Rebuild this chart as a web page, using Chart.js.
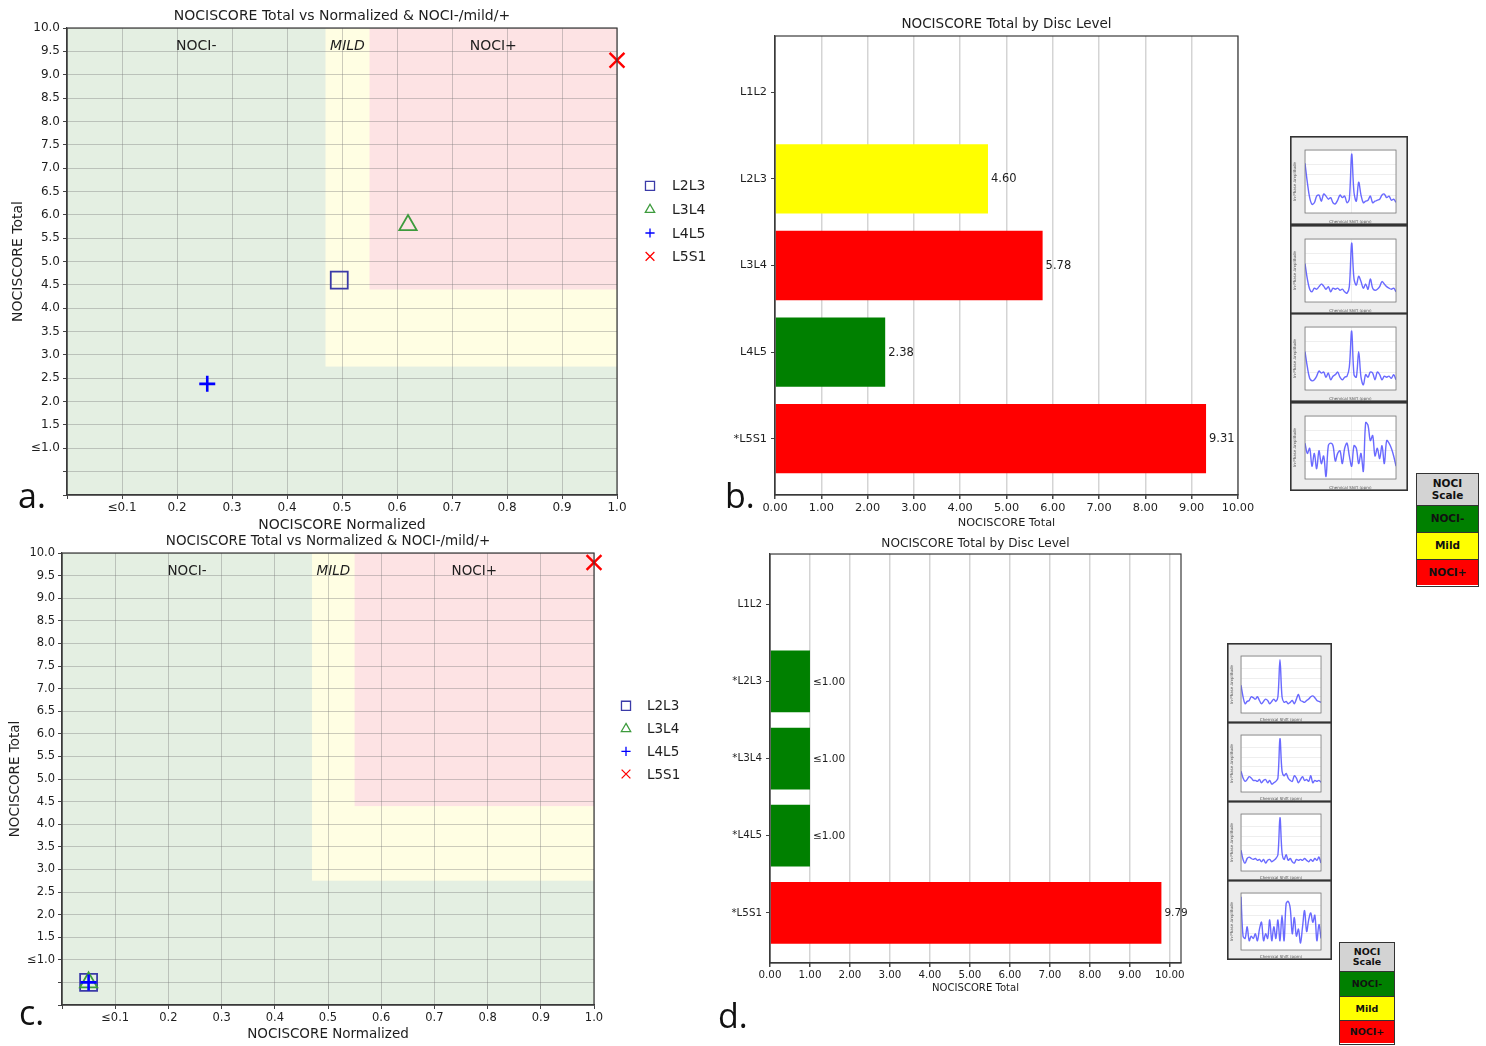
<!DOCTYPE html>
<html><head><meta charset="utf-8">
<script src="https://cdn.jsdelivr.net/npm/chart.js@4.4.1/dist/chart.umd.min.js"></script>
<style>
html,body{margin:0;padding:0;background:#fff;}
body{width:1486px;height:1046px;position:relative;overflow:hidden;font-family:"DejaVu Sans",sans-serif;}
.abs{position:absolute;}
canvas{display:block;}
.letter{position:absolute;font-family:"Open Sans","Liberation Sans",sans-serif;font-size:34px;line-height:1;color:#111;}
.scale{position:absolute;border:1.5px solid #333;box-sizing:border-box;display:flex;flex-direction:column;font-family:"DejaVu Sans",sans-serif;font-weight:bold;color:#111;}
.scale div{display:flex;align-items:center;justify-content:center;text-align:center;white-space:pre-line;line-height:1.05;border-top:1.5px solid #333;box-sizing:border-box;}
.scale div:first-child{border-top:none;}
</style></head><body>

<div class="abs" style="left:0;top:0;"><canvas id="chartA" width="720" height="535"></canvas></div>
<div class="abs" style="left:725px;top:0;"><canvas id="chartB" width="540" height="535"></canvas></div>
<div class="abs" style="left:0;top:528px;"><canvas id="chartC" width="720" height="518"></canvas></div>
<div class="abs" style="left:720px;top:530px;"><canvas id="chartD" width="500" height="516"></canvas></div>

<div class="abs" style="left:1290px;top:136px;"><canvas id="thB0" width="118" height="89"></canvas></div>
<div class="abs" style="left:1290px;top:225px;"><canvas id="thB1" width="118" height="89"></canvas></div>
<div class="abs" style="left:1290px;top:313px;"><canvas id="thB2" width="118" height="89"></canvas></div>
<div class="abs" style="left:1290px;top:402px;"><canvas id="thB3" width="118" height="89"></canvas></div>

<div class="abs" style="left:1227px;top:643px;"><canvas id="thD0" width="105" height="80"></canvas></div>
<div class="abs" style="left:1227px;top:722px;"><canvas id="thD1" width="105" height="80"></canvas></div>
<div class="abs" style="left:1227px;top:801px;"><canvas id="thD2" width="105" height="80"></canvas></div>
<div class="abs" style="left:1227px;top:880px;"><canvas id="thD3" width="105" height="80"></canvas></div>

<div id="scaleB" class="scale" style="left:1416px;top:473px;width:63px;height:114px;font-size:10.5px;"></div>
<div id="scaleD" class="scale" style="left:1339px;top:942px;width:56px;height:103px;font-size:9.5px;"></div>

<div class="letter" style="left:18px;top:478px;">a.</div>
<div class="letter" style="left:725px;top:478px;">b.</div>
<div class="letter" style="left:19px;top:995px;">c.</div>
<div class="letter" style="left:718px;top:998px;">d.</div>

<script>
// ===================== DATA =====================
const scatterLevels = ['L2L3', 'L3L4', 'L4L5', 'L5S1'];
const scatterANormalized = [0.495, 0.62, 0.255, 1.0];
const scatterATotal = [4.60, 5.78, 2.38, 9.31];
const scatterCNormalized = [0.05, 0.05, 0.05, 1.0];
const scatterCTotal = [0.5, 0.5, 0.5, 9.79];

const scatterXTickValues = [0, 0.1, 0.2, 0.3, 0.4, 0.5, 0.6, 0.7, 0.8, 0.9, 1.0];
const scatterXTickLabels = ['', '≤0.1', '0.2', '0.3', '0.4', '0.5', '0.6', '0.7', '0.8', '0.9', '1.0'];
const scatterYTickValues = [0, 0.5, 1.0, 1.5, 2.0, 2.5, 3.0, 3.5, 4.0, 4.5, 5.0, 5.5, 6.0, 6.5, 7.0, 7.5, 8.0, 8.5, 9.0, 9.5, 10.0];
const scatterYTickLabels = ['', '', '≤1.0', '1.5', '2.0', '2.5', '3.0', '3.5', '4.0', '4.5', '5.0', '5.5', '6.0', '6.5', '7.0', '7.5', '8.0', '8.5', '9.0', '9.5', '10.0'];

const zoneMildMinNormalized = 0.47;
const zoneMildMinTotal = 2.75;
const zonePlusMinNormalized = 0.55;
const zonePlusMinTotal = 4.4;
const zoneLabels = ['NOCI-', 'MILD', 'NOCI+'];

const barBLevels = ['L1L2', 'L2L3', 'L3L4', 'L4L5', '*L5S1'];
const barBTotals = [null, 4.60, 5.78, 2.38, 9.31];
const barBClasses = ['none', 'mild', 'plus', 'minus', 'plus'];
const barBValueLabels = ['', '4.60', '5.78', '2.38', '9.31'];

const barDLevels = ['L1L2', '*L2L3', '*L3L4', '*L4L5', '*L5S1'];
const barDTotals = [null, 1.0, 1.0, 1.0, 9.79];
const barDClasses = ['none', 'minus', 'minus', 'minus', 'plus'];
const barDValueLabels = ['', '≤1.00', '≤1.00', '≤1.00', '9.79'];

const barXTickValues = [0, 1, 2, 3, 4, 5, 6, 7, 8, 9, 10];
const barXTickLabels = ['0.00', '1.00', '2.00', '3.00', '4.00', '5.00', '6.00', '7.00', '8.00', '9.00', '10.00'];

const nociScaleLabels = ['NOCI\nScale', 'NOCI-', 'Mild', 'NOCI+'];
const nociScaleClasses = ['header', 'minus', 'mild', 'plus'];

// thumbnail spectra (relative amplitude)
const spectrumB0 = [0.82,0.45,0.15,0.02,0.05,0.18,0.2,0.08,0.22,0.18,0.12,0.15,0.05,0.03,0.1,0.2,0.15,0.18,0.05,0.12,1.0,0.25,0.08,0.45,0.2,0.05,0.08,0.1,0.18,0.05,0.08,0.1,0.12,0.2,0.22,0.15,0.18,0.1,0.12,0.06];
const spectrumB1 = [0.6,0.3,0.1,0.05,0.12,0.1,0.15,0.2,0.16,0.1,0.15,0.05,0.12,0.1,0.12,0.08,0.1,0.05,0.02,0.15,1.0,0.3,0.18,0.35,0.25,0.12,0.2,0.1,0.3,0.12,0.08,0.1,0.15,0.25,0.2,0.15,0.12,0.1,0.12,0.05];
const spectrumB2 = [0.6,0.3,0.08,0.03,0.05,0.12,0.22,0.18,0.2,0.1,0.18,0.05,0.12,0.15,0.2,0.1,0.05,0.1,0.12,0.3,1.0,0.15,0.1,0.6,0.1,-0.05,0.15,0.1,0.2,0.18,0.05,0.2,0.15,0.05,0.12,0.1,0.12,0.08,0.15,0.05];
const spectrumB3 = [0.55,0.35,0.45,0.1,0.35,0.05,0.4,0.15,0.3,-0.1,0.5,0.55,0.5,0.2,0.35,0.4,0.15,0.45,0.55,0.3,0.1,0.5,0.45,0.15,0.35,0.0,0.95,0.9,0.6,0.7,0.3,0.45,0.25,0.5,0.15,0.6,0.55,0.45,0.3,0.1];
const spectrumD0 = [0.45,0.2,0.05,0.1,0.12,0.2,0.18,0.15,0.2,0.12,0.05,0.1,0.15,0.12,0.05,0.1,0.15,0.1,0.2,1.0,0.2,0.08,0.1,0.05,0.08,0.12,0.05,0.15,0.25,0.12,0.1,0.08,0.12,0.15,0.2,0.22,0.18,0.12,0.1,0.08];
const spectrumD1 = [0.3,0.15,0.08,0.12,0.18,0.15,0.1,0.1,0.08,0.12,0.05,0.1,0.12,0.05,0.1,0.02,0.05,0.08,0.15,1.0,0.3,0.2,0.25,0.15,0.1,0.08,0.2,0.15,0.05,0.12,0.18,0.1,0.12,0.08,0.2,0.05,0.1,0.08,0.1,0.06];
const spectrumD2 = [0.3,0.1,0.02,0.12,0.15,0.12,0.1,0.12,0.08,0.1,0.05,0.1,0.02,0.08,0.1,0.05,0.08,0.12,0.2,1.0,0.25,0.1,0.2,0.08,0.12,0.05,0.02,0.1,0.08,0.1,0.08,0.12,0.08,0.05,0.1,0.06,0.12,0.08,0.15,0.02];
const spectrumD3 = [1.0,0.15,0.1,0.35,0.05,0.15,0.1,0.2,0.05,0.3,0.45,0.05,0.2,0.1,0.5,0.05,0.35,0.1,0.5,0.05,0.6,0.05,0.85,0.9,0.75,0.2,0.55,0.15,0.3,0.0,0.35,0.7,0.25,0.5,0.65,0.45,0.6,0.05,0.4,0.1];

// ===================== STYLE / LAYOUT =====================
const FONT = "'DejaVu Sans', sans-serif";
const TEXT = '#1e1e1e';
const classColors = { none: 'rgba(0,0,0,0)', minus: '#008000', mild: '#ffff00', plus: '#ff0000', header: '#d3d3d3' };
const zoneColors = { minus: '#e4efe2', mild: '#fffee3', plus: '#fde3e4' };
const markerStyles = [
  { style: 'rect', color: '#3b3ba8', radius: 12, width: 1.8, legendRadius: 6.4 },
  { style: 'triangle', color: '#3d9b3d', radius: 10, width: 1.8, legendRadius: 5.4 },
  { style: 'cross', color: '#0000ff', radius: 8, width: 2.6, legendRadius: 4.6 },
  { style: 'crossRot', color: '#ff0000', radius: 10.5, width: 2.4, legendRadius: 6.2 }
];
const zoneLabelAnchors = [{ x: 0.235, y: 9.6, italic: false }, { x: 0.51, y: 9.6, italic: true }, { x: 0.775, y: 9.6, italic: false }];
const legendRowFractions = [0.338, 0.389, 0.439, 0.489];

function drawMarker(ctx, style, x, y, r) {
  ctx.beginPath();
  if (style === 'rect') {
    const s = r * Math.SQRT1_2; ctx.rect(x - s, y - s, 2 * s, 2 * s);
  } else if (style === 'triangle') {
    const a = 2 * Math.PI / 3;
    ctx.moveTo(x, y - r);
    ctx.lineTo(x + r * Math.sin(a), y - r * Math.cos(a));
    ctx.lineTo(x + r * Math.sin(2 * a), y - r * Math.cos(2 * a));
    ctx.closePath();
  } else if (style === 'cross') {
    ctx.moveTo(x, y - r); ctx.lineTo(x, y + r); ctx.moveTo(x - r, y); ctx.lineTo(x + r, y);
  } else {
    const d = r * Math.SQRT1_2;
    ctx.moveTo(x - d, y - d); ctx.lineTo(x + d, y + d); ctx.moveTo(x + d, y - d); ctx.lineTo(x - d, y + d);
  }
  ctx.stroke();
}

const framePlugin = {
  id: 'frame',
  afterDraw(chart) {
    const { ctx, chartArea: a } = chart;
    ctx.save(); ctx.strokeStyle = '#3a3a3a'; ctx.lineWidth = 1.2;
    ctx.strokeRect(a.left, a.top, a.width, a.height); ctx.restore();
  }
};

function buildScatter(id, xs, ys, g) {
  const datasets = scatterLevels.map((lvl, i) => ({
    label: lvl,
    data: [{ x: xs[i], y: ys[i] }],
    pointStyle: markerStyles[i].style,
    pointRadius: markerStyles[i].radius,
    pointHoverRadius: markerStyles[i].radius,
    pointBorderColor: markerStyles[i].color,
    pointBackgroundColor: 'rgba(0,0,0,0)',
    pointBorderWidth: markerStyles[i].width,
    showLine: false,
    clip: false,
    order: scatterLevels.length - i
  }));
  const zonesPlugin = {
    id: 'zones',
    beforeDraw(chart) {
      const { ctx, chartArea: a, scales: { x, y } } = chart;
      ctx.save();
      ctx.fillStyle = zoneColors.minus; ctx.fillRect(a.left, a.top, a.width, a.height);
      let x0 = x.getPixelForValue(zoneMildMinNormalized), y0 = y.getPixelForValue(zoneMildMinTotal);
      ctx.fillStyle = zoneColors.mild; ctx.fillRect(x0, a.top, a.right - x0, y0 - a.top);
      x0 = x.getPixelForValue(zonePlusMinNormalized); y0 = y.getPixelForValue(zonePlusMinTotal);
      ctx.fillStyle = zoneColors.plus; ctx.fillRect(x0, a.top, a.right - x0, y0 - a.top);
      ctx.restore();
    },
    afterDraw(chart) {
      const { ctx, chartArea: a, scales: { x, y } } = chart;
      ctx.save();
      ctx.fillStyle = TEXT; ctx.textBaseline = 'middle'; ctx.textAlign = 'center';
      zoneLabels.forEach((t, i) => {
        const an = zoneLabelAnchors[i];
        ctx.font = (an.italic ? 'italic ' : '') + g.zoneSize + 'px ' + FONT;
        ctx.fillText(t, x.getPixelForValue(an.x), y.getPixelForValue(an.y));
      });
      // legend
      ctx.textAlign = 'left';
      ctx.font = g.legendSize + 'px ' + FONT;
      scatterLevels.forEach((lvl, i) => {
        const yy = a.top + legendRowFractions[i] * a.height;
        ctx.strokeStyle = markerStyles[i].color; ctx.lineWidth = 1.3;
        drawMarker(ctx, markerStyles[i].style, a.right + g.legendMarkerDx, yy, markerStyles[i].legendRadius);
        ctx.fillStyle = TEXT;
        ctx.fillText(lvl, a.right + g.legendTextDx, yy + 1);
      });
      ctx.restore();
    }
  };
  return new Chart(document.getElementById(id), {
    type: 'scatter',
    data: { datasets },
    options: {
      responsive: false, animation: false, events: [],
      layout: { padding: { left: 0, top: 0, right: g.padRight, bottom: 0 } },
      plugins: {
        legend: { display: false }, tooltip: { enabled: false },
        title: {
          display: true, text: 'NOCISCORE Total vs Normalized & NOCI-/mild/+', fullSize: false,
          color: TEXT, font: { family: FONT, size: g.titleSize, weight: 'normal' },
          padding: { top: g.titlePadTop, bottom: g.titlePadBottom }
        }
      },
      scales: {
        x: {
          type: 'linear', min: 0, max: 1,
          afterBuildTicks: s => { s.ticks = scatterXTickValues.map(v => ({ value: v })); },
          afterFit: s => { s.height = g.xAxisH; },
          ticks: { callback: (v, i) => scatterXTickLabels[i], color: TEXT, font: { family: FONT, size: g.tickSize }, padding: 2, maxRotation: 0, autoSkip: false },
          grid: { color: 'rgba(120,120,120,0.38)', lineWidth: 1, tickLength: 4, tickColor: '#444' },
          border: { color: '#3a3a3a', width: 1.2 },
          title: { display: true, text: 'NOCISCORE Normalized', color: TEXT, font: { family: FONT, size: g.axisTitleSize }, padding: { top: 0, bottom: g.xTitlePadBottom } }
        },
        y: {
          type: 'linear', min: 0, max: 10,
          afterBuildTicks: s => { s.ticks = scatterYTickValues.map(v => ({ value: v })); },
          afterFit: s => { s.width = g.yAxisW; },
          ticks: { callback: (v, i) => scatterYTickLabels[i], color: TEXT, font: { family: FONT, size: g.tickSize }, padding: 3, autoSkip: false },
          grid: { color: 'rgba(120,120,120,0.38)', lineWidth: 1, tickLength: 4, tickColor: '#444' },
          border: { color: '#3a3a3a', width: 1.2 },
          title: { display: true, text: 'NOCISCORE Total', color: TEXT, font: { family: FONT, size: g.axisTitleSize }, padding: { top: g.yTitlePadTop, bottom: 0 } }
        }
      }
    },
    plugins: [zonesPlugin, framePlugin]
  });
}

function buildBars(id, levels, totals, classes, valueLabels, g) {
  const valuePlugin = {
    id: 'values',
    afterDatasetsDraw(chart) {
      const { ctx } = chart;
      const meta = chart.getDatasetMeta(0);
      ctx.save(); ctx.fillStyle = TEXT; ctx.textBaseline = 'middle'; ctx.textAlign = 'left';
      ctx.font = g.valueSize + 'px ' + FONT;
      meta.data.forEach((el, i) => {
        if (!valueLabels[i] || totals[i] === null) return;
        ctx.fillText(valueLabels[i], el.x + 3, el.y + 0.5);
      });
      ctx.restore();
    }
  };
  return new Chart(document.getElementById(id), {
    type: 'bar',
    data: {
      datasets: [{
        data: totals.map((v, i) => ({ x: v, y: i })),
        backgroundColor: classes.map(c => classColors[c]),
        borderWidth: 0, barPercentage: 0.8, categoryPercentage: 1.0
      }]
    },
    options: {
      indexAxis: 'y', responsive: false, animation: false, events: [],
      layout: { padding: { left: 0, top: 0, right: g.padRight, bottom: 0 } },
      plugins: {
        legend: { display: false }, tooltip: { enabled: false },
        title: {
          display: true, text: 'NOCISCORE Total by Disc Level', fullSize: false,
          color: TEXT, font: { family: FONT, size: g.titleSize, weight: 'normal' },
          padding: { top: g.titlePadTop, bottom: g.titlePadBottom }
        }
      },
      scales: {
        x: {
          type: 'linear', min: 0, max: g.xMax, offset: false,
          afterBuildTicks: s => { s.ticks = barXTickValues.map(v => ({ value: v })); },
          afterFit: s => { s.height = g.xAxisH; },
          ticks: { callback: (v, i) => barXTickLabels[i], color: TEXT, font: { family: FONT, size: g.tickSize }, padding: 2, maxRotation: 0, autoSkip: false },
          grid: { color: 'rgba(0,0,0,0.17)', lineWidth: 1.5, tickLength: 4, tickColor: '#444', offset: false },
          border: { color: '#3a3a3a', width: 1.2 },
          title: { display: true, text: 'NOCISCORE Total', color: TEXT, font: { family: FONT, size: g.axisTitleSize }, padding: { top: 0, bottom: g.xTitlePadBottom } }
        },
        y: {
          type: 'linear', min: -0.65, max: levels.length - 0.35, reverse: true, offset: false,
          afterBuildTicks: s => { s.ticks = levels.map((_, i) => ({ value: i })); },
          afterFit: s => { s.width = g.yAxisW; },
          ticks: { callback: (v, i) => levels[i], color: TEXT, font: { family: FONT, size: g.tickSize }, padding: 4, autoSkip: false },
          grid: { drawOnChartArea: false, tickLength: 4, tickColor: '#444', offset: false },
          border: { color: '#3a3a3a', width: 1.2 }
        }
      }
    },
    plugins: [valuePlugin, framePlugin]
  });
}

function buildThumb(id, values) {
  const bgPlugin = {
    id: 'thumbBg',
    beforeDraw(chart) {
      const { ctx, chartArea: a, width, height } = chart;
      ctx.save();
      ctx.fillStyle = '#ececec'; ctx.fillRect(0, 0, width, height);
      ctx.fillStyle = '#ffffff'; ctx.fillRect(a.left, a.top, a.width, a.height);
      ctx.restore();
    },
    afterDraw(chart) {
      const { ctx, chartArea: a, width, height } = chart;
      ctx.save();
      ctx.strokeStyle = '#7a7a7a'; ctx.lineWidth = 0.8; ctx.strokeRect(a.left, a.top, a.width, a.height);
      ctx.strokeStyle = '#333'; ctx.lineWidth = 1.6; ctx.strokeRect(0.8, 0.8, width - 1.6, height - 1.6);
      ctx.fillStyle = '#555'; ctx.font = '4px ' + FONT; ctx.textAlign = 'center'; ctx.textBaseline = 'middle';
      ctx.fillText('Chemical Shift (ppm)', (a.left + a.right) / 2, height - 3.5);
      ctx.translate(4.5, (a.top + a.bottom) / 2); ctx.rotate(-Math.PI / 2);
      ctx.fillText('In-Phase Amplitude', 0, 0);
      ctx.restore();
    }
  };
  const el = document.getElementById(id);
  const w = el.width, h = el.height;
  return new Chart(el, {
    type: 'line',
    data: { datasets: [{ data: values.map((v, i) => ({ x: i, y: v })), borderColor: 'rgba(80,80,255,0.85)', borderWidth: 1.4, pointRadius: 0, tension: 0.35, fill: false }] },
    options: {
      responsive: false, animation: false, events: [],
      layout: { padding: { left: Math.round(w * 0.13), right: Math.round(w * 0.1), top: Math.round(h * 0.16), bottom: Math.round(h * 0.13) } },
      plugins: { legend: { display: false }, tooltip: { enabled: false } },
      scales: {
        x: { type: 'linear', min: 0, max: values.length - 1, ticks: { display: false }, grid: { color: '#e2e2e2', lineWidth: 0.6, drawTicks: false }, border: { display: false } },
        y: { type: 'linear', min: -0.15, max: 1.08, ticks: { display: false, stepSize: 0.2 }, grid: { color: '#e2e2e2', lineWidth: 0.6, drawTicks: false }, border: { display: false } }
      }
    },
    plugins: [bgPlugin]
  });
}

function buildScale(id, rowHeights) {
  const box = document.getElementById(id);
  nociScaleLabels.forEach((t, i) => {
    const d = document.createElement('div');
    d.textContent = t;
    d.style.background = classColors[nociScaleClasses[i]];
    d.style.height = rowHeights[i] + 'px';
    box.appendChild(d);
  });
}

// ===================== BUILD =====================
buildScatter('chartA', scatterANormalized, scatterATotal, {
  titleSize: 14, titlePadTop: 7.6, titlePadBottom: 3.6, tickSize: 12, axisTitleSize: 14,
  yAxisW: 67, xAxisH: 40, padRight: 103, xTitlePadBottom: 1.6, yTitlePadTop: 9.6,
  legendSize: 14, zoneSize: 14, legendMarkerDx: 33, legendTextDx: 55
});
buildScatter('chartC', scatterCNormalized, scatterCTotal, {
  titleSize: 13.5, titlePadTop: 4.9, titlePadBottom: 3.9, tickSize: 11.5, axisTitleSize: 13.5,
  yAxisW: 62, xAxisH: 41, padRight: 126, xTitlePadBottom: 3.9, yTitlePadTop: 6.9,
  legendSize: 13.5, zoneSize: 13.5, legendMarkerDx: 32, legendTextDx: 53
});
buildBars('chartB', barBLevels, barBTotals, barBClasses, barBValueLabels, {
  titleSize: 13.5, titlePadTop: 15.9, titlePadBottom: 3.9, tickSize: 11.3, axisTitleSize: 11.3,
  yAxisW: 50, xAxisH: 40, padRight: 27, xTitlePadBottom: 5.2, xMax: 10, valueSize: 11.5
});
buildBars('chartD', barDLevels, barDTotals, barDClasses, barDValueLabels, {
  titleSize: 12.1, titlePadTop: 6.7, titlePadBottom: 2.8, tickSize: 10.3, axisTitleSize: 10.1,
  yAxisW: 50, xAxisH: 83, padRight: 39, xTitlePadBottom: 51.9, xMax: 10.28, valueSize: 10.5
});
[spectrumB0, spectrumB1, spectrumB2, spectrumB3].forEach((s, i) => buildThumb('thB' + i, s));
[spectrumD0, spectrumD1, spectrumD2, spectrumD3].forEach((s, i) => buildThumb('thD' + i, s));
buildScale('scaleB', [31, 27, 27, 26]);
buildScale('scaleD', [28, 25, 24, 23]);
</script>
</body></html>
